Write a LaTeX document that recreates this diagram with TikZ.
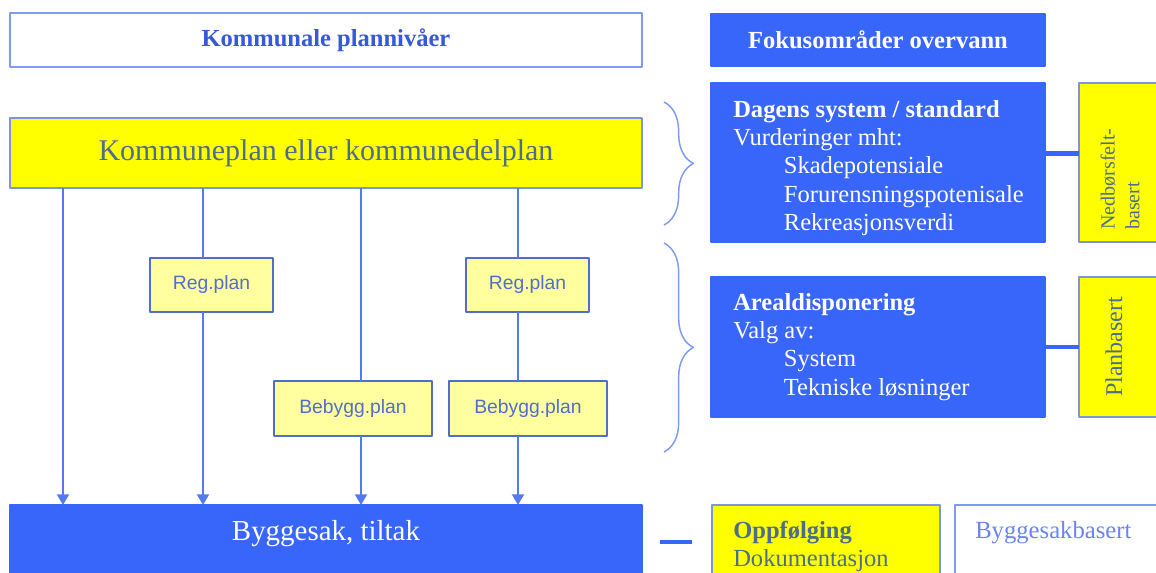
\documentclass[tikz,border=0pt]{standalone}
\usepackage{fontspec}
\setmainfont{Liberation Serif}
\setsansfont{Liberation Sans}
\usetikzlibrary{arrows.meta,decorations.pathreplacing}
\definecolor{planblue}{RGB}{56,102,250}
\definecolor{edgeblue}{RGB}{125,155,240}
\definecolor{lineblue}{RGB}{85,122,240}
\definecolor{planyellow}{RGB}{255,255,0}
\definecolor{paleyellow}{RGB}{255,255,160}
\definecolor{titleblue}{RGB}{55,88,218}
\definecolor{slate}{RGB}{78,108,140}
\definecolor{smallblue}{RGB}{82,110,205}
\begin{document}
\begin{tikzpicture}[x=0.75pt,y=-0.75pt,>={Triangle[length=8pt,width=9pt]},line join=round,
    box/.style={anchor=north west,inner sep=0pt,outer sep=0pt,line width=1.2pt},
    bluebox/.style={box,fill=planblue,draw=planblue},
    yellowbox/.style={box,fill=planyellow,draw=edgeblue!80!gray},
    subbox/.style={box,fill=paleyellow,draw=smallblue,anchor=center,
        font=\sffamily\fontsize{14.5}{17}\selectfont,text=smallblue},
    whitebox/.style={box,fill=white,draw=edgeblue},
    txt/.style={inner sep=0pt,align=left,font=\fontsize{18.4}{21.2}\selectfont},
    flow/.style={draw=lineblue,line width=1.5pt},
    link/.style={draw=planblue,line width=3.6pt},
    curly/.style={draw=edgeblue,line width=1.1pt,decorate,decoration={brace,amplitude=22pt}}]
\useasboundingbox (0,0) rectangle (1156,573);
\clip (0,0) rectangle (1156,573);

\node[whitebox,minimum width=474pt,minimum height=40.5pt,text=titleblue,
    font=\bfseries\fontsize{18.4}{21}\selectfont] (niva) at (10,13) {\hbox to 474pt{\hfil Kommunale plannivåer\hfil}};
\node[bluebox,minimum width=250.5pt,minimum height=39pt,text=white,
    font=\bfseries\fontsize{18.4}{21}\selectfont] (fokus) at (711,14) {\hbox to 250.5pt{\hfil Fokusområder overvann\hfil}};

\node[yellowbox,minimum width=474pt,minimum height=52.5pt,text=slate,
    font=\fontsize{22.5}{26}\selectfont] (kp) at (10,118) {\hbox to 474pt{\hfil Kommuneplan eller kommunedelplan\hfil}};
\node[subbox,minimum width=92.25pt,minimum height=40.5pt] (reg1) at (211.5,285) {Reg.plan};
\node[subbox,minimum width=92.25pt,minimum height=40.5pt] (reg2) at (527.5,285) {Reg.plan};
\node[subbox,minimum width=118.5pt,minimum height=41.25pt] (beb1) at (353,408.5) {Bebygg.plan};
\node[subbox,minimum width=118.5pt,minimum height=41.25pt] (beb2) at (528,408.5) {Bebygg.plan};
\node[bluebox,minimum width=474pt,minimum height=60pt] (bygg) at (10,505) {};
\node[txt,text=white,font=\fontsize{21.7}{25}\selectfont] (byggtxt) at (326,534) {Byggesak, tiltak};

\coordinate (c1) at (63,0);
\coordinate (c2) at (203,0);
\coordinate (c3) at (361,0);
\coordinate (c4) at (518,0);
\draw[flow,->] (kp.south -| c1) -- (bygg.north -| c1);
\draw[flow] (kp.south -| c2) -- (reg1.north -| c2);
\draw[flow,->] (reg1.south -| c2) -- (bygg.north -| c2);
\draw[flow] (kp.south -| c3) -- (beb1.north -| c3);
\draw[flow,->] (beb1.south -| c3) -- (bygg.north -| c3);
\draw[flow] (kp.south -| c4) -- (reg2.north -| c4);
\draw[flow] (reg2.south -| c4) -- (beb2.north -| c4);
\draw[flow,->] (beb2.south -| c4) -- (bygg.north -| c4);

\node[bluebox,minimum width=250.5pt,minimum height=119.25pt] (dagens) at (711,83) {};
\node[txt,text=white,anchor=north west] (dagenstxt) at (733,100)
    {\textbf{Dagens system / standard}\\Vurderinger mht:\\\hspace*{38pt}Skadepotensiale\\
     \hspace*{38pt}Forurensningspotenisale\\\hspace*{38pt}Rekreasjonsverdi};
\node[yellowbox,minimum width=68.25pt,minimum height=119.25pt] (ned) at (1079,83) {};
\node[txt,text=slate,rotate=90,anchor=west,font=\fontsize{15}{18.5}\selectfont] (nedtxt) at (1120,230)
    {Nedbørsfelt-\\basert};
\draw[link] ([yshift=7pt]dagens.east) -- ([yshift=7pt]ned.west);

\node[bluebox,minimum width=250.5pt,minimum height=105pt] (areal) at (711,277) {};
\node[txt,text=white,anchor=north west] (arealtxt) at (733,293)
    {\textbf{Arealdisponering}\\Valg av:\\\hspace*{38pt}System\\\hspace*{38pt}Tekniske løsninger};
\node[yellowbox,minimum width=68.25pt,minimum height=105pt] (plan) at (1079,277) {};
\node[txt,text=slate,rotate=90,font=\fontsize{18}{21}\selectfont] (plantxt) at (1114,347) {Planbasert};
\draw[link] (areal.east) -- (plan.west);

\node[yellowbox,minimum width=171pt,minimum height=60pt] (oppf) at (712,505) {};
\node[txt,text=slate,anchor=north west] (oppftxt) at (733,521)
    {\textbf{Oppfølging}\\Dokumentasjon};
\node[whitebox,minimum width=161.25pt,minimum height=60pt] (bsak) at (955,505) {};
\node[txt,text=edgeblue!85!blue,anchor=north west,font=\fontsize{18.5}{21}\selectfont] (bsaktxt) at (975,521)
    {Byggesakbasert};

\coordinate (dashl) at (660,542);
\coordinate (dashr) at (692,542);
\draw[link] (dashl) -- (dashr);

\coordinate (b1top) at (664,102);
\coordinate (b1bot) at (664,225);
\coordinate (b2top) at (664,243);
\coordinate (b2bot) at (664,452);
\draw[curly] (b1top) -- (b1bot);
\draw[curly] (b2top) -- (b2bot);
\end{tikzpicture}
\end{document}
